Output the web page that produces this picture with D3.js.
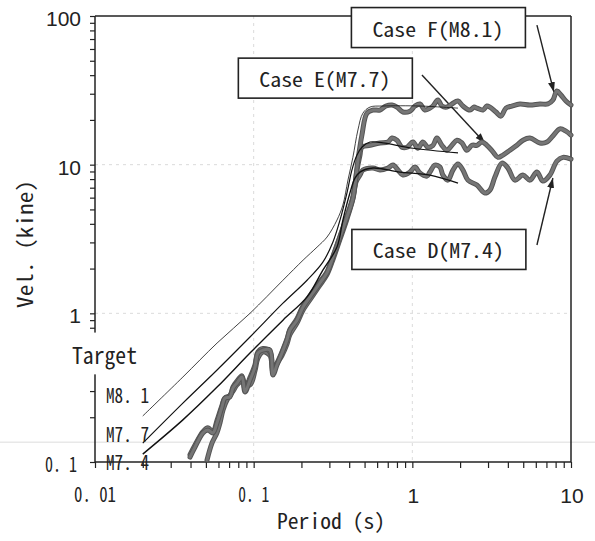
<!DOCTYPE html>
<html><head><meta charset="utf-8">
<script src="https://cdn.jsdelivr.net/npm/d3@7"></script>
<style>body{margin:0;background:#fff}svg{display:block}</style>
</head><body>
<svg id="c" width="595" height="541"></svg>
<script>
// ---------- data ----------
const periodDomain = [0.01, 10];
const velDomain = [0.1, 100];
const xTickValues = [0.01, 0.1, 1, 10];
const xTickLabels = ["0. 01", "0. 1", "1", "10"];
const yTickValues = [0.1, 1, 10, 100];
const yTickLabels = ["0. 1", "1", "10", "100"];
const gridPeriods = [0.1, 1];
const gridVels = [1, 10];

const targetNames = ["M8. 1", "M7. 7", "M7. 4"];
const targetLabelVel = [0.249, 0.136, 0.0884];
const targetM81 = [[0.02,0.204],[0.0358,0.373],[0.0588,0.631],[0.0948,1.00],[0.153,1.67],[0.205,2.28],[0.251,2.79],[0.29,3.26],[0.335,4.24],[0.365,5.35],[0.393,7.88],[0.422,11.2],[0.454,17.1],[0.488,22.2],[0.541,24.4],[0.653,24.8],[1.117,24.8],[1.94,24.0]];
const targetM77 = [[0.02,0.134],[0.0358,0.249],[0.0588,0.416],[0.0948,0.693],[0.153,1.17],[0.217,1.67],[0.273,2.21],[0.316,3.02],[0.35,4.24],[0.387,6.44],[0.416,9.2],[0.448,11.6],[0.481,13.1],[0.541,14.2],[0.653,14.0],[1.01,12.9],[1.94,12.0]];
const targetM74 = [[0.02,0.113],[0.0358,0.192],[0.0588,0.319],[0.0948,0.541],[0.153,0.90],[0.217,1.29],[0.273,1.95],[0.335,2.79],[0.365,4.24],[0.404,6.44],[0.435,8.12],[0.468,8.91],[0.565,9.49],[0.836,8.91],[1.291,8.51],[1.94,7.52]];

const caseF = [[0.0397,0.108],[0.0427,0.126],[0.0479,0.157],[0.0515,0.164],[0.0554,0.157],[0.0587,0.183],[0.0631,0.234],[0.0659,0.269],[0.0709,0.274],[0.0741,0.315],[0.0785,0.340],[0.0844,0.373],[0.0882,0.296],[0.0948,0.356],[0.1019,0.435],[0.1064,0.541],[0.1144,0.566],[0.1267,0.566],[0.1323,0.385],[0.1402,0.449],[0.1508,0.541],[0.1621,0.661],[0.1693,0.77],[0.1875,0.90],[0.2045,1.10],[0.2364,1.37],[0.2617,1.60],[0.2897,1.87],[0.316,2.39],[0.35,3.26],[0.387,4.44],[0.4225,5.96],[0.454,10.7],[0.481,15.8],[0.5175,22.2],[0.565,23.3],[0.625,23.3],[0.682,24.8],[0.744,25.2],[0.80,24.4],[0.873,22.6],[0.966,22.9],[1.039,24.8],[1.117,25.6],[1.2,23.3],[1.291,24.0],[1.349,24.8],[1.45,27.2],[1.536,24.8],[1.652,24.4],[1.776,25.6],[1.938,26.8],[2.084,24.8],[2.307,23.3],[2.45,24.4],[2.553,24.0],[2.786,23.3],[2.95,24.8],[3.083,24.4],[3.365,22.6],[3.616,21.2],[3.89,24.0],[4.24,24.8],[4.764,25.6],[5.508,25.2],[6.368,25.6],[7.15,25.6],[7.69,27.2],[8.15,31.3],[8.64,29.4],[9.29,26.8],[10,25.2]];
const caseE = [[0.0397,0.112],[0.0427,0.13],[0.0479,0.16],[0.0515,0.17],[0.0554,0.16],[0.0587,0.19],[0.0631,0.24],[0.0659,0.27],[0.0709,0.28],[0.0741,0.32],[0.0785,0.35],[0.0844,0.38],[0.0882,0.31],[0.0948,0.37],[0.1019,0.45],[0.1064,0.55],[0.1144,0.58],[0.1267,0.55],[0.1323,0.40],[0.1402,0.46],[0.1508,0.55],[0.1621,0.67],[0.1693,0.78],[0.1875,0.92],[0.2045,1.12],[0.2364,1.40],[0.2617,1.63],[0.2897,1.90],[0.316,2.42],[0.35,3.3],[0.387,4.5],[0.4225,6.1],[0.448,9.2],[0.4677,11.6],[0.481,13.1],[0.541,13.5],[0.625,14.0],[0.702,14.2],[0.744,15.1],[0.80,14.6],[0.86,13.1],[0.925,13.1],[1.009,14.2],[1.085,12.9],[1.166,14.2],[1.254,13.1],[1.349,13.5],[1.429,15.1],[1.536,13.5],[1.652,12.5],[1.776,13.5],[1.91,14.6],[2.054,14.0],[2.208,12.5],[2.374,13.5],[2.553,13.5],[2.746,14.2],[2.952,13.5],[3.221,12.2],[3.463,11.2],[3.724,11.6],[4.121,12.5],[4.56,13.5],[4.98,14.6],[5.508,15.1],[6.368,14.0],[7.05,14.2],[7.69,15.6],[8.511,17.4],[9.29,16.8],[10,15.8]];
const caseD = [[0.0508,0.103],[0.0546,0.134],[0.0587,0.157],[0.0613,0.183],[0.0641,0.224],[0.0679,0.261],[0.0741,0.30],[0.0785,0.33],[0.0844,0.35],[0.0948,0.33],[0.1019,0.41],[0.1064,0.50],[0.1144,0.55],[0.1267,0.52],[0.1323,0.42],[0.1402,0.46],[0.1508,0.52],[0.1621,0.62],[0.1693,0.72],[0.1875,0.86],[0.2045,1.05],[0.2364,1.32],[0.2617,1.55],[0.2897,1.82],[0.316,2.3],[0.35,3.15],[0.387,4.3],[0.4225,5.9],[0.4413,7.64],[0.4677,8.51],[0.488,9.2],[0.565,9.49],[0.625,9.2],[0.702,9.49],[0.755,9.94],[0.812,9.2],[0.873,8.51],[0.966,8.92],[1.039,9.63],[1.117,8.78],[1.236,8.38],[1.291,8.92],[1.388,9.94],[1.493,9.63],[1.559,8.51],[1.676,7.87],[1.803,9.2],[1.938,10.1],[2.084,9.2],[2.241,7.87],[2.553,7.29],[2.867,6.44],[3.083,6.75],[3.315,8.25],[3.67,10.25],[4.003,9.49],[4.43,7.87],[4.98,8.51],[5.508,7.87],[6.10,8.92],[6.65,7.76],[7.362,8.51],[8.15,10.57],[8.89,11.2],[10,10.9]];

const caseNames = ["Case F(M8.1)", "Case E(M7.7)", "Case D(M7.4)"];
const caseBoxCenter = [[1.46, 83.6], [0.283, 38.2], [1.47, 2.69]];
const caseArrowFrom = [[6.1, 86.9], [1.15, 40.1], [6.1, 2.88]];
const caseArrowTo = [[7.8, 30.8], [2.87, 14.0], [7.69, 8.13]];

// ---------- drawing ----------
const GOTHIC = "'Noto Sans Mono CJK JP','DejaVu Sans Mono',monospace";
const SANS = "'Liberation Sans',Arial,sans-serif";
const svg = d3.select("#c");
const x = d3.scaleLog().domain(periodDomain).range([95, 571]);
const y = d3.scaleLog().domain(velDomain).range([462, 16]);

// scan line
svg.append("line").attr("x1", 0).attr("x2", 595)
  .attr("y1", y(0.136)).attr("y2", y(0.136))
  .attr("stroke", "#dcdcdc").attr("stroke-width", 1);

// grid
const grid = svg.append("g").attr("stroke", "#d2d2d2").attr("stroke-width", 0.8).attr("stroke-dasharray", "3,4");
gridVels.forEach(v => grid.append("line").attr("x1", x(0.01)).attr("x2", x(10)).attr("y1", y(v)).attr("y2", y(v)));
gridPeriods.forEach(p => grid.append("line").attr("x1", x(p)).attr("x2", x(p)).attr("y1", y(100)).attr("y2", y(0.1)));

// axes ticks
const xAxis = svg.append("g").attr("transform", `translate(0,${y(0.1)})`)
  .call(d3.axisBottom(x).tickValues(x.ticks()).tickSize(6).tickFormat(""));
const yAxis = svg.append("g").attr("transform", `translate(${x(0.01)},0)`)
  .call(d3.axisLeft(y).tickValues(y.ticks()).tickSize(5).tickFormat(""));
[xAxis, yAxis].forEach(a => { a.select(".domain").remove(); a.selectAll("line").attr("stroke", "#222").attr("stroke-width", 1.2); });

// frame
const frame = svg.append("g").attr("stroke", "#222").attr("stroke-width", 1.5).attr("fill", "none");
frame.append("line").attr("x1", x(0.01)).attr("x2", x(10)).attr("y1", y(100)).attr("y2", y(100));
frame.append("line").attr("x1", x(10)).attr("x2", x(10)).attr("y1", y(100)).attr("y2", y(0.1));
frame.append("line").attr("x1", x(0.01)).attr("x2", x(10)).attr("y1", y(0.1)).attr("y2", y(0.1));
frame.append("line").attr("x1", x(0.01)).attr("x2", x(0.01)).attr("y1", y(100)).attr("y2", y(0.74));
frame.append("line").attr("x1", x(0.01)).attr("x2", x(0.01)).attr("y1", y(0.39)).attr("y2", y(0.1));

// tick labels
yTickValues.forEach((v, i) => {
  const lab = yTickLabels[i];
  if (lab.includes(". ")) {
    svg.append("text").attr("x", 45).attr("y", y(v) + 10).attr("font-family", GOTHIC).attr("font-size", 21)
      .attr("textLength", 32).attr("lengthAdjust", "spacingAndGlyphs").attr("fill", "#222").text(lab);
  } else {
    svg.append("text").attr("x", 81).attr("y", y(v) + 10).attr("text-anchor", "end")
      .attr("font-family", SANS).attr("font-size", 21).attr("fill", "#222").text(lab);
  }
});
const xGothicW = {"0. 01": 42, "0. 1": 31};
xTickValues.forEach((v, i) => {
  const lab = xTickLabels[i];
  if (lab.includes(". ")) {
    const w = xGothicW[lab];
    svg.append("text").attr("x", x(v) - w / 2).attr("y", 502).attr("font-family", GOTHIC).attr("font-size", 21)
      .attr("textLength", w).attr("lengthAdjust", "spacingAndGlyphs").attr("fill", "#222").text(lab);
  } else {
    svg.append("text").attr("x", x(v) + 1).attr("y", 503).attr("text-anchor", "middle")
      .attr("font-family", SANS).attr("font-size", 21).attr("fill", "#222").text(lab);
  }
});

// axis titles
svg.append("text").attr("x", 277).attr("y", 529).attr("font-family", GOTHIC).attr("font-size", 21)
  .attr("textLength", 108).attr("lengthAdjust", "spacingAndGlyphs").attr("fill", "#222").text("Period (s)");
svg.append("text").attr("transform", "translate(33,244) rotate(-90)").attr("x", -64).attr("y", 0)
  .attr("font-family", GOTHIC).attr("font-size", 21)
  .attr("textLength", 128).attr("lengthAdjust", "spacingAndGlyphs").attr("fill", "#222").text("Vel. (kine)");

// arrows (beneath curves)
const defs = svg.append("defs");
defs.append("marker").attr("id", "ah").attr("markerUnits", "userSpaceOnUse")
  .attr("markerWidth", 11).attr("markerHeight", 8).attr("refX", 10).attr("refY", 4).attr("orient", "auto")
  .append("path").attr("d", "M0,0.5 L10,4 L0,7.5 Z").attr("fill", "#222");
caseNames.forEach((n, i) => {
  svg.append("line").attr("x1", x(caseArrowFrom[i][0])).attr("y1", y(caseArrowFrom[i][1]))
    .attr("x2", x(caseArrowTo[i][0])).attr("y2", y(caseArrowTo[i][1]))
    .attr("stroke", "#222").attr("stroke-width", 1.4).attr("marker-end", "url(#ah)");
});

// simulated cases (thick gray)
const line = d3.line().x(d => x(d[0])).y(d => y(d[1])).curve(d3.curveCatmullRom.alpha(0.5));
[caseD, caseE, caseF].forEach(c => {
  svg.append("path").datum(c).attr("d", line).attr("fill", "none")
    .attr("stroke", "#555").attr("stroke-width", 5).attr("stroke-linejoin", "round").attr("stroke-linecap", "round");
  svg.append("path").datum(c).attr("d", line).attr("fill", "none")
    .attr("stroke", "#767676").attr("stroke-width", 3).attr("stroke-linejoin", "round").attr("stroke-linecap", "round");
});

// target curves (thin black)
const tline = d3.line().x(d => x(d[0])).y(d => y(d[1])).curve(d3.curveCatmullRom.alpha(0.5));
const targetSeries = [targetM81, targetM77, targetM74];
const targetWidths = [0.8, 1.2, 1.4];
targetSeries.forEach((t, i) => {
  svg.append("path").datum(t).attr("d", tline).attr("fill", "none")
    .attr("stroke", "#111").attr("stroke-width", targetWidths[i]);
});

// Target label with white backing (breaks the axis)
svg.append("rect").attr("x", 66).attr("y", y(0.74)).attr("width", 76).attr("height", y(0.39) - y(0.74)).attr("fill", "#fff");
svg.append("text").attr("x", 72).attr("y", 364).attr("font-family", GOTHIC).attr("font-size", 23)
  .attr("textLength", 65).attr("lengthAdjust", "spacingAndGlyphs").attr("fill", "#222").text("Target");
targetNames.forEach((n, i) => {
  svg.append("text").attr("x", 106).attr("y", y(targetLabelVel[i])).attr("font-family", GOTHIC).attr("font-size", 20)
    .attr("textLength", 43).attr("lengthAdjust", "spacingAndGlyphs").attr("fill", "#222").text(n);
});

// case boxes
caseNames.forEach((n, i) => {
  const cx = x(caseBoxCenter[i][0]), cy = y(caseBoxCenter[i][1]);
  svg.append("rect").attr("x", cx - 87).attr("y", cy - 20).attr("width", 174).attr("height", 40)
    .attr("fill", "#fff").attr("stroke", "#222").attr("stroke-width", 1.6);
  svg.append("text").attr("x", cx - 66).attr("y", cy + 9).attr("font-family", GOTHIC).attr("font-size", 20)
    .attr("textLength", 131).attr("lengthAdjust", "spacingAndGlyphs").attr("fill", "#222").text(n);
});
</script>
</body></html>
